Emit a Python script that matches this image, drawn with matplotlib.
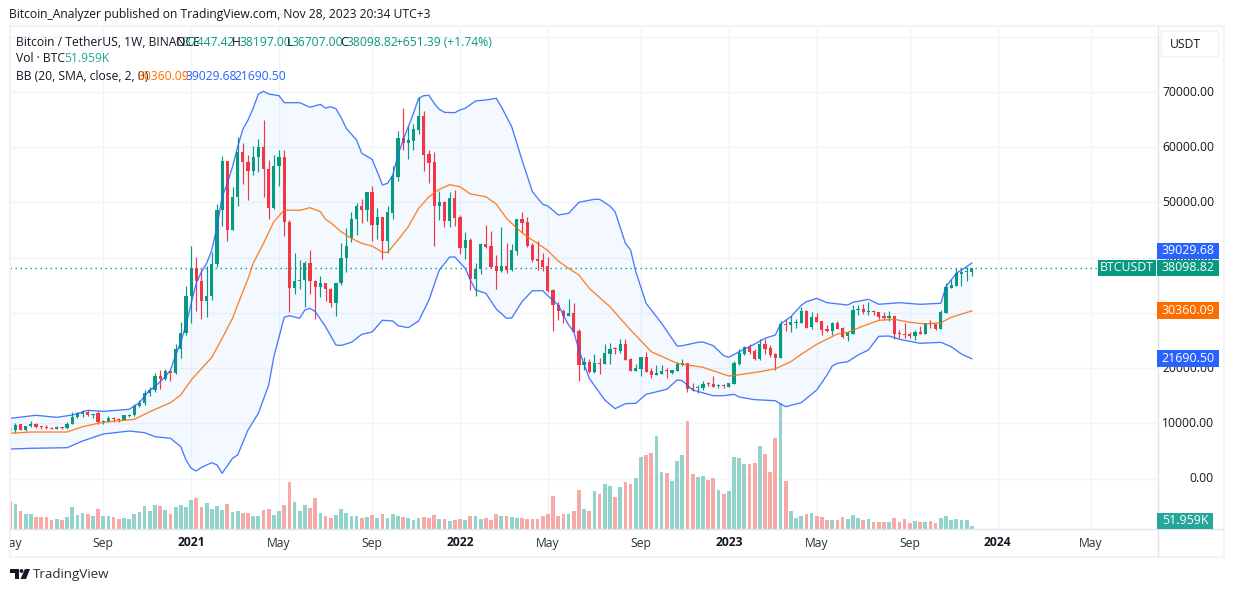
import matplotlib
matplotlib.use("Agg")
import matplotlib.pyplot as plt
from matplotlib.patches import Rectangle, FancyBboxPatch, Polygon, Circle
from matplotlib.transforms import Bbox

opens = [8900,8720,9800,8750,9450,9800,9480,9330,9130,8950,9280,9100,9900,11100,11650,12100,11500,11900,10200,10300,10950,10770,10650,11350,11500,13050,13750,15450,16000,18550,18000,19450,19170,23500,26300,
33000,38150,35800,32200,33100,38850,48600,57450,45100,51000,59150,57400,55750,58200,60000,56100,49050,56600,58200,46400,34500,35800,35900,39000,35700,34750,35400,34250,31730,35350,39900,43600,46950,49350,48640,51900,45980,47380,43080,48150,54600,61700,60830,61140,63200,65670,58790,57340,49350,50100,46650,50800,
47380,41760,43200,36140,37950,42480,42120,38500,37640,38500,37770,41210,47000,46470,42300,39770,39580,38500,34150,31370,30280,29490,29980,26720,20560,21100,19350,20870,20740,22550,23590,23100,24360,21650,19470,19840,22010,19470,18700,18930,19530,19110,19470,20560,20870,16400,16400,16400,17240,17120,16760,16990,
16580,17120,20740,22550,23820,23100,21650,24360,23640,22550,21830,27990,27800,28170,28170,30340,27390,29260,28590,27080,26720,28170,27260,25810,26180,30530,30710,30160,30340,30160,29440,29080,29440,26360,26180,26180,25810,26540,26180,28170,27990,27080,29980,34500,34870,37050,37380,37447.42]
highs = [9800,10000,9900,9600,10400,9990,9600,9750,9250,9450,9350,10150,12100,12100,12450,12450,11720,12170,10650,11350,11180,11050,11500,11720,13440,14200,16000,16600,19050,19650,19900,19500,24300,28400,34800,
42100,40100,37950,38500,41000,49700,58400,57600,52750,61800,60700,58550,60200,61450,64950,57700,58600,59450,59450,46800,40850,39600,39400,41400,35900,36700,35500,34600,35400,42600,45300,48280,49950,50650,51900,52990,49000,47380,49350,56600,62950,67100,63860,64270,69100,66580,59500,59150,52100,50200,51900,52250,
47740,44650,43500,39040,42660,45900,44800,40490,45560,42660,42480,47000,48280,47380,42660,43030,40850,40130,34300,31970,30650,32460,31740,27030,21960,21650,22550,21880,24360,24600,23820,25220,25270,21800,20740,22010,22920,20020,20560,20560,20020,19700,21110,21650,21000,17240,16940,17660,17480,18570,17120,17120,
17300,21290,23400,24000,24300,23460,25270,25270,24180,22650,28530,28900,29430,28900,31070,30530,30160,29980,28590,27800,28350,28530,27440,26800,31430,31430,31610,31970,30530,30160,30160,30340,29440,26900,28220,26540,26900,27620,28170,28710,27990,30530,35420,36140,38130,38130,38400,38197]
lows = [8500,8250,8700,8600,9300,9100,9000,8900,8900,8900,9050,9050,9850,10950,11100,11400,10950,9870,9870,10150,10150,10150,10550,11150,11400,12900,13250,14900,15700,16300,17900,17650,19000,21900,26000,
28200,30400,28950,29300,32300,38300,45800,43100,45000,49400,53350,50450,54950,55600,51000,47050,48900,53000,44000,30150,33500,34300,31100,33400,28950,32950,32200,31000,29450,35100,37460,42900,44100,46200,46650,43080,43400,39800,40900,47000,53900,59500,57900,59500,62400,55760,53480,42170,46800,45560,45560,45750,
40670,39800,34150,33120,37050,41750,38150,34330,37450,37250,37600,40490,44470,41940,39220,37770,37600,33700,26720,28770,28220,29490,26600,17720,19650,19170,19050,18930,20740,20740,22550,22790,21470,19470,19470,18570,19350,18200,18700,18930,18200,18880,19400,20300,15670,15850,15490,16030,16750,16580,16400,16400,
16580,17120,20560,22370,22550,21470,21470,22550,22060,19650,21830,26720,26540,27260,28170,27320,27080,28350,26000,26480,26000,27080,25450,24910,26180,29620,29800,29620,29620,28900,28710,28530,25270,25450,25450,25450,25090,26180,26180,27260,26900,27080,29980,34500,34870,34870,35780,36707]
closes = [8720,9680,8750,9500,9800,9350,9330,9130,8950,9280,9100,9950,11140,11900,12050,11550,11700,10200,10330,10960,10770,10650,11500,11500,13050,13750,15450,16000,18550,18000,19450,19170,23500,26300,33000,
38150,35800,32200,33100,38850,48600,57450,45100,51000,59150,57400,55750,58200,60000,56100,49050,56600,58200,46400,34500,35800,35900,39000,35700,34750,35400,34250,31730,35350,39900,42200,47000,49350,48640,51900,45980,47380,43080,48280,54800,61700,60830,61320,63300,65670,58600,57200,49350,50100,46650,50800,47200,
41760,43200,36140,37950,42480,41880,38300,37640,38500,37770,41400,47000,46300,42120,39580,39400,38300,33970,31370,30280,29490,29980,26600,20560,21160,19350,20920,20740,22730,23460,23460,24360,21470,19470,20020,22010,19350,18750,19110,19470,19420,19650,20740,20920,16210,16210,16630,17120,17120,16580,16940,16760,
17300,20920,22730,23820,22920,21650,24360,23460,22370,21830,27990,27800,28350,28350,30340,27320,29260,28350,26900,26720,28170,27080,25630,26360,30530,30710,30160,30340,30160,29260,29080,29440,26180,26180,26000,25810,26540,26180,28170,27990,27080,30160,34700,35060,37230,37410,37447.42,38098.82]
volumes_k = [434,397,288,241,241,194,194,194,146,162,146,194,350,225,256,241,209,319,209,209,194,162,178,162,241,272,366,288,382,366,303,241,350,382,350,
460,492,350,413,319,366,303,397,272,288,256,256,209,209,303,319,225,288,382,743,429,288,382,335,492,256,209,178,225,319,256,209,209,178,194,225,178,241,178,241,209,194,178,146,178,194,178,225,162,162,131,146,
162,146,209,209,162,178,146,241,209,209,194,178,178,162,162,162,209,241,523,209,241,241,288,617,319,288,601,554,711,680,507,664,743,711,805,1135,1166,1198,1464,900,884,758,1072,1166,1700,868,821,837,774,805,617,554,
601,1135,1119,1025,1025,1041,1308,1182,900,1433,1977,758,288,178,209,241,256,209,194,146,146,146,194,162,225,178,146,162,115,115,115,115,178,115,162,99,131,115,115,131,99,178,209,146,162,146,146,51.959]

upper_weeks = [0,5,9,12,15,18,23,24,25,26,27,28,29,30,31,32,33,34,35,36,37,38,39,40,41,42,43,44,45,46,47,48,49,50,52,53,56,58,60,61,62,63,64,65,67,68,70,71,72,73,74,75,76,77,78,79,80,81,82,83,84,86,87,88,90,92,94,95,97,99,101,103,104,106,108,110,113,114,116,117,119,120,121,123,126,129,130,133,134,136,138,139,141,144,146,148,149,151,153,154,156,158,162,163,166,168,172,176,180,181,183,185,186]
upper_band = [10900,11450,11080,11500,12350,12170,12530,13130,13730,14950,16030,16630,17540,18440,19650,22370,24790,27810,31730,35420,37470,39000,41400,45600,51050,53480,56480,60100,63260,64950,67100,69650,70140,69650,69350,68080,68080,67250,67790,67100,67350,67000,65400,63440,61320,58910,57830,55580,53170,53480,54980,58600,61320,63730,66160,68880,69350,69420,67970,66880,66340,66270,66760,67060,68390,68570,68880,67350,63730,57700,51960,49670,49370,47740,48040,50040,50580,50580,49370,48330,42600,41400,37500,31730,28120,24000,24060,24670,24730,24060,22250,21960,22970,24360,25400,26000,27990,29310,31370,32030,32640,31850,31430,31920,32460,31560,31850,31560,31740,34750,37170,38370,39029.68]
basis_weeks = [0,4,11,14,18,24,27,31,33,35,39,41,43,45,46,47,49,51,53,56,58,60,61,62,64,66,68,70,72,73,75,77,79,81,83,85,87,89,92,94,96,98,100,102,104,106,108,110,112,116,120,124,129,134,139,141,142,145,148,151,153,156,160,162,165,168,171,174,177,180,182,186]
basis_band = [8190,8420,8420,9390,10180,10720,12100,13730,15130,17840,21960,25400,29020,33840,36200,38990,42600,46520,48640,48580,49060,48330,46960,46340,44710,43510,42600,42120,40980,40980,43200,45620,48950,51050,52390,53230,52860,51540,51050,49730,47130,45330,43800,42600,41270,39400,38080,36870,34450,31120,26900,22970,20870,20140,18570,18800,18930,19350,19890,21160,22500,24310,26180,26480,27620,28660,28840,28300,27990,28220,29200,30360.09]
lower_weeks = [0,4,11,14,18,23,26,28,31,33,34,35,36,37,39,40,41,43,44,46,48,50,51,53,54,56,57,58,59,61,63,64,66,68,70,72,74,75,77,79,81,83,85,86,88,89,90,92,94,96,97,99,101,103,104,106,108,109,110,112,115,117,119,121,123,127,129,130,132,136,138,140,141,144,148,149,150,153,156,158,159,160,162,164,166,168,170,172,176,180,182,184,186]
lower_band = [5340,5470,5580,6790,8060,8600,8300,7570,7280,5760,3350,1850,1360,2030,2860,2450,940,3660,4260,8790,11810,16940,22070,29200,29490,29020,30530,30830,30220,27500,24180,24100,24670,26120,26540,28660,28530,27680,27320,28530,32340,37770,40130,40130,38080,35960,34150,33550,30710,29020,29080,32030,34020,34020,33120,31430,27810,26600,23280,18150,14220,12650,13550,13620,15250,16160,17840,17720,16030,15000,15000,15250,14760,14280,14090,13500,13010,13730,16030,18750,20380,20870,21160,22370,23280,25760,25810,25220,24490,24670,23880,22550,21690.50]

price_ticks = [0,10000,20000,30000,40000,50000,60000,70000,80000]
price_labels = ["0.00","10000.00","20000.00","30000.00","40000.00","50000.00","60000.00","70000.00"]
time_ticks = [0,18,35,52,70,87,104,122,139,156,174,191,209]
time_labels = ["May","Sep","2021","May","Sep","2022","May","Sep","2023","May","Sep","2024","May"]
year_labels = {"2021","2022","2023","2024"}

UP, DOWN = "#089981", "#F23645"
VUP, VDOWN = "#92D3CC", "#F7A9A7"
FONT = "Open Sans"
TXT = "#131722"
W, H = 1233, 592
plt.rcParams["font.family"] = [FONT, "DejaVu Sans"]
fig = plt.figure(figsize=(W/100, H/100), dpi=100, facecolor="white")

L, R, T, B = 10, 1157, 27, 529
rect = [L/W, 1-B/H, (R-L)/W, (B-T)/H]
vax = fig.add_axes(rect, zorder=1)
ax = fig.add_axes(rect, zorder=2)
ax.patch.set_alpha(0)
XPW = 5.17
X0 = 10.2
xlim = ((L-X0)/XPW, (R-X0)/XPW)
PPX = 0.00552
ylim = ((478.5-B)/PPX, (478.5-T)/PPX)
for a in (ax, vax):
    a.set_xlim(*xlim)
    a.axis("off")
ax.set_ylim(*ylim)
vax.set_ylim(0, (B-T)*15.69)

# grid
for v in price_ticks:
    vax.plot([0,1],[ (v-ylim[0])/(ylim[1]-ylim[0]) ]*2, transform=vax.transAxes, color="#F0F3FA", lw=1, zorder=0)
for t in time_ticks:
    vax.axvline(t, color="#F0F3FA", lw=1, zorder=0)

weeks = list(range(len(closes)))
vcol = [VUP if c >= o else VDOWN for o, c in zip(opens, closes)]
vax.bar(weeks, volumes_k, width=0.72, color=vcol, lw=0, zorder=1)

# BB
ax.fill(upper_weeks + lower_weeks[::-1], upper_band + lower_band[::-1], color="#2196F3", alpha=0.05, lw=0, zorder=1)

colors = [UP if c >= o else DOWN for o, c in zip(opens, closes)]
ax.vlines(weeks, lows, highs, colors=colors, lw=0.85, zorder=3)
bottoms = [min(o, c) for o, c in zip(opens, closes)]
heights = [max(abs(c-o), 180) for o, c in zip(opens, closes)]
ax.bar(weeks, heights, bottom=bottoms, width=0.62, color=colors, lw=0, zorder=3)
ax.plot(upper_weeks, upper_band, color="#2962FF", lw=0.95, alpha=.85, zorder=4)
ax.plot(lower_weeks, lower_band, color="#2962FF", lw=0.95, alpha=.85, zorder=4)
ax.plot(basis_weeks, basis_band, color="#FF6D00", lw=0.95, alpha=.85, zorder=4)
last_close = closes[-1]
ax.plot([xlim[0], (1098-X0)/XPW], [last_close]*2, color=UP, lw=1, ls=(0,(1,2.6)), zorder=2)

# chrome
ov = fig.add_axes([0,0,1,1], zorder=5)
ov.set_xlim(0,W); ov.set_ylim(H,0); ov.axis("off"); ov.patch.set_alpha(0)
ov.add_patch(Rectangle((9.5,26),1214,531,fill=False,ec="#F0F3FA",lw=1.5))
ov.plot([10,1223],[529,529],color="#E0E3EB",lw=1)
ov.plot([1157.5,1157.5],[27,556],color="#E0E3EB",lw=1)

def T_(x,y,s,color=TXT,size=8.7,**k):
    k.setdefault("ha","left"); k.setdefault("va","center")
    return ov.text(x,y,s,color=color,fontsize=size,**k)

T_(9,14.5,"Bitcoin_Analyzer published on TradingView.com, Nov 28, 2023 20:34 UTC+3")
Y1,Y2,Y3 = 42.5,59,76
T_(16,Y1,"Bitcoin / TetherUS, 1W, BINANCE")
for x,s in [(175.5,"O"),(231.5,"H"),(286.5,"L"),(340.5,"C")]:
    T_(x,Y1,s)
for x,s in [(183,"37447.42"),(239,"38197.00"),(291.5,"36707.00"),(346.5,"38098.82"),(395.5,"+651.39 (+1.74%)")]:
    T_(x,Y1,s,color=UP)
T_(16,Y2,"Vol · BTC")
T_(64.5,Y2,"51.959K",color="#26A69A")
T_(16,Y3,"BB (20, SMA, close, 2, 0)")
T_(137.5,Y3,"30360.09",color="#FF6D00")
T_(185.5,Y3,"39029.68",color="#2962FF")
T_(234,Y3,"21690.50",color="#2962FF")

# price scale
for v,s in zip(price_ticks,price_labels):
    T_(1214,478.5-v*PPX,s,ha="right")
ov.add_patch(FancyBboxPatch((1161,31),58,26,boxstyle="round,pad=0,rounding_size=3",fc="white",ec="#F0F3FA",lw=1.2))
T_(1170,44,"USDT")

def tag(x0,x1,yc,s,fc,h=16.5):
    ov.add_patch(Rectangle((x0,yc-h/2),x1-x0,h,fc=fc,ec="none",zorder=6))
    ov.text((x0+x1)/2,yc-0.3,s,color="white",fontsize=8.9,ha="center",va="center",zorder=7)
tag(1157,1219,251,"39029.68","#2962FF")
tag(1157,1219,268.2,"38098.82",UP)
tag(1098,1156,268.2,"BTCUSDT",UP)
tag(1157,1219,310.5,"30360.09","#FF6D00")
tag(1157,1219,358.3,"21690.50","#2962FF")
tag(1157,1213,521,"51.959K","#26A69A")

# time scale
for t,s in zip(time_ticks,time_labels):
    x = X0 + XPW*t
    txt = T_(x,543,s,ha="center",fontweight="bold" if s in year_labels else "normal",color=TXT if s in year_labels else "#2A2E39")
    txt.set_clip_on(True)
    txt.set_clip_box(Bbox([[L,0],[R,H]]))

# logo
ov.add_patch(Polygon([(10,569),(19,569),(19,579),(15,579),(15,573),(10,573)],fc=TXT,ec="none"))
ov.add_patch(Circle((21.5,571),1.9,fc=TXT,ec="none"))
ov.add_patch(Polygon([(25,569),(30,569),(26,579),(20.5,579)],fc=TXT,ec="none"))
T_(33.3,574.5,"TradingView",color="#2A2E39",size=9.6)

fig.savefig("out.png",dpi=100)
